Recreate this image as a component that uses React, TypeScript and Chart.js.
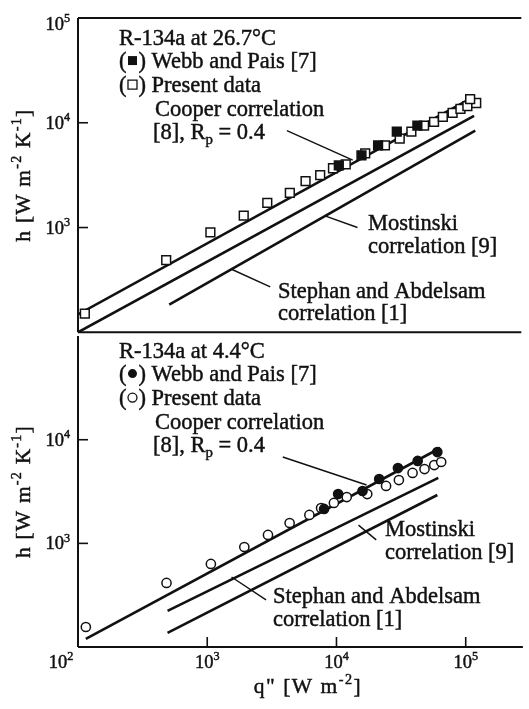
import React, { useEffect, useRef } from "react";
import { Chart, registerables } from "chart.js";
Chart.register(...registerables);

const FONT = '"Liberation Serif", "Times New Roman", serif';
const INK = "#111111";

// ---- axes ----
const Q_MIN = 100;
const Q_MAX = 277000;
const H_MIN = 100;
const H_MAX = 100000;
const decadeValues = [100, 1000, 10000, 100000];
const decadeExponents = ["2", "3", "4", "5"];

// ---- top panel: R-134a at 26.7 C ----
const presentTopQ = [113, 484, 1067, 1936, 2951, 4415, 5850, 7600, 9550, 12000, 17000, 24200, 31500, 38800, 48700, 58200, 68100, 81100, 93300, 105600, 123700, 111000];
const presentTopH = [151, 489, 897, 1297, 1722, 2139, 2775, 3162, 3680, 4015, 5100, 6070, 7060, 8220, 9370, 10220, 11400, 12420, 13550, 14450, 15440, 16840];
const webbTopQ = [10600, 15900, 21400, 29900, 43200];
const webbTopH = [3930, 4890, 6070, 8220, 9370];
const cooperTopQ = [100, 117000];
const cooperTopH = [148, 17600];
const mostinskiTopQ = [100, 119000];
const mostinskiTopH = [100, 11640];
const stephanTopQ = [511, 121600];
const stephanTopH = [184, 8410];
const cooperLeaderTopQ = [4190, 13600];
const cooperLeaderTopH = [8410, 4390];
const mostinskiLeaderTopQ = [8170, 14800];
const mostinskiLeaderTopH = [1297, 1000];
const stephanLeaderTopQ = [1542, 3110];
const stephanLeaderTopH = [402, 272];

// ---- bottom panel: R-134a at 4.4 C ----
const presentBotQ = [115, 484, 1067, 1936, 2951, 4340, 6170, 7600, 9550, 12000, 17300, 24200, 30400, 38800, 48000, 57100, 64600];
const presentBotH = [156, 415, 633, 922, 1205, 1573, 1880, 2193, 2455, 2800, 2990, 3580, 4080, 4780, 5210, 5700, 6100];
const webbBotQ = [8020, 10300, 15900, 21400, 29900, 42500, 60300];
const webbBotH = [2150, 2990, 3200, 4180, 5330, 6240, 7600];
const cooperBotQ = [115, 63500];
const cooperBotH = [120, 8320];
const corrMidBotQ = [493, 61400];
const corrMidBotH = [223, 4280];
const corrLowBotQ = [493, 60300];
const corrLowBotH = [137, 2930];
const cooperLeaderBotQ = [3840, 17100];
const cooperLeaderBotH = [6810, 3660];
const mostinskiLeaderBotQ = [14800, 20300];
const mostinskiLeaderBotH = [1500, 1080];
const stephanLeaderBotQ = [1542, 2850];
const stephanLeaderBotH = [474, 285];

type Seg = { t?: string; sup?: boolean; sub?: boolean; mark?: string };
type TextItem = { x: number; y: number; segs: Seg[] };

function pts(qs: number[], hs: number[]) {
  return qs.map((q, i) => ({ x: q, y: hs[i] }));
}
function lineDs(qs: number[], hs: number[], w: number) {
  return {
    data: pts(qs, hs),
    showLine: true,
    borderColor: INK,
    borderWidth: w,
    pointRadius: 0,
    fill: false,
    order: 2,
  };
}
function markDs(qs: number[], hs: number[], style: string, filled: boolean) {
  return {
    data: pts(qs, hs),
    showLine: false,
    pointStyle: style,
    pointRadius: style === "rect" ? 6.2 : 4.6,
    pointBackgroundColor: filled ? INK : "#ffffff",
    pointBorderColor: INK,
    pointBorderWidth: 1.5,
    order: filled ? 0 : 1,
  };
}

function drawMark(ctx: CanvasRenderingContext2D, kind: string, cx: number, cy: number) {
  ctx.save();
  ctx.lineWidth = 1.3;
  ctx.beginPath();
  if (kind.endsWith("sq")) ctx.rect(cx - 4.5, cy - 4.5, 9, 9);
  else ctx.arc(cx, cy, 4.5, 0, Math.PI * 2);
  if (kind.startsWith("f")) ctx.fill();
  else ctx.stroke();
  ctx.restore();
}

function richWidth(ctx: CanvasRenderingContext2D, segs: Seg[], size: number, spacing: number) {
  let w = 0;
  (ctx as any).letterSpacing = `${spacing}px`;
  for (const s of segs) {
    if (s.mark) { w += 12; continue; }
    const fs = s.sup || s.sub ? size * 0.66 : size;
    ctx.font = `${fs}px ${FONT}`;
    w += ctx.measureText(s.t || "").width;
  }
  return w;
}

function drawRich(ctx: CanvasRenderingContext2D, segs: Seg[], x: number, y: number, size: number, align = "left", spacing = 0) {
  const w = richWidth(ctx, segs, size, spacing);
  let cx = align === "center" ? x - w / 2 : align === "right" ? x - w : x;
  ctx.textAlign = "left";
  ctx.textBaseline = "alphabetic";
  (ctx as any).letterSpacing = `${spacing}px`;
  ctx.lineWidth = 0.45;
  ctx.strokeStyle = INK;
  for (const s of segs) {
    if (s.mark) {
      drawMark(ctx, s.mark, cx + 6, y - size * 0.33);
      cx += 12;
      continue;
    }
    const fs = s.sup || s.sub ? size * 0.66 : size;
    ctx.font = `${fs}px ${FONT}`;
    const dy = s.sup ? -size * 0.42 : s.sub ? size * 0.22 : 0;
    ctx.fillText(s.t || "", cx, y + dy);
    ctx.strokeText(s.t || "", cx, y + dy);
    cx += ctx.measureText(s.t || "").width;
  }
  (ctx as any).letterSpacing = "0px";
}

const yTitle: Seg[] = [{ t: "h [W m" }, { t: "-2", sup: true }, { t: " K" }, { t: "-1", sup: true }, { t: "]" }];
const xTitle: Seg[] = [{ t: "q\" [W m" }, { t: "-2", sup: true }, { t: "]" }];

type PanelCfg = {
  offsetY: number;
  drawTop: boolean;
  drawDivider: boolean;
  drawBottomAxis: boolean;
  yLabelValues: number[];
  texts: TextItem[];
};

function makeDecor(cfg: PanelCfg) {
  return {
    id: "panelDecor",
    afterDraw(chart: any) {
      const ctx: CanvasRenderingContext2D = chart.ctx;
      const a = chart.chartArea;
      const xs = chart.scales.x;
      const ys = chart.scales.y;
      ctx.save();
      ctx.strokeStyle = INK;
      ctx.fillStyle = INK;
      ctx.lineWidth = 2;
      ctx.beginPath();
      ctx.moveTo(a.left, a.top);
      ctx.lineTo(a.left, a.bottom);
      if (cfg.drawTop) {
        ctx.moveTo(a.left, a.top);
        ctx.lineTo(a.right, a.top);
      }
      if (cfg.drawDivider || cfg.drawBottomAxis) {
        ctx.moveTo(a.left, a.bottom);
        ctx.lineTo(a.right, a.bottom);
      }
      ctx.stroke();

      // y ticks (inside) and labels
      for (let i = 0; i < decadeValues.length; i++) {
        const v = decadeValues[i];
        const py = ys.getPixelForValue(v);
        if (v > H_MIN && v < H_MAX) {
          ctx.lineWidth = 1.6;
          ctx.beginPath();
          ctx.moveTo(a.left, py);
          ctx.lineTo(a.left + 10, py);
          ctx.stroke();
        }
        if (cfg.yLabelValues.includes(v)) {
          const base = Math.max(py + 6, a.top + 12);
          drawRich(ctx, [{ t: "10" }, { t: decadeExponents[i], sup: true }], a.left - 8, base, 18.5, "right");
        }
      }

      // x ticks and labels on the bottom axis
      if (cfg.drawBottomAxis) {
        for (let i = 0; i < decadeValues.length; i++) {
          const v = decadeValues[i];
          const px = xs.getPixelForValue(v);
          if (v > Q_MIN) {
            ctx.lineWidth = 1.6;
            ctx.beginPath();
            ctx.moveTo(px, a.bottom);
            ctx.lineTo(px, a.bottom - 10);
            ctx.stroke();
          }
          const cx = v === Q_MIN ? px - 17 : px;
          drawRich(ctx, [{ t: "10" }, { t: decadeExponents[i], sup: true }], cx, a.bottom + 21, 18.5, "center");
        }
        drawRich(ctx, xTitle, 308, 693 - cfg.offsetY, 21.5, "center", 1.5);
      }

      // y title (rotated)
      ctx.save();
      ctx.translate(23, (a.top + a.bottom) / 2);
      ctx.rotate(-Math.PI / 2);
      drawRich(ctx, yTitle, 0, 7, 21.5, "center", 1.2);
      ctx.restore();

      // annotation texts
      for (const t of cfg.texts) {
        drawRich(ctx, t.segs, t.x, t.y - cfg.offsetY, 22.5, "left");
      }
      ctx.restore();
    },
  };
}

const topTexts: TextItem[] = [
  { x: 119, y: 45, segs: [{ t: "R-134a at 26.7°C" }] },
  { x: 119, y: 68, segs: [{ t: "(" }, { mark: "fsq" }, { t: ") Webb and Pais [7]" }] },
  { x: 119, y: 92, segs: [{ t: "(" }, { mark: "osq" }, { t: ") Present data" }] },
  { x: 155, y: 116, segs: [{ t: "Cooper correlation" }] },
  { x: 153, y: 139, segs: [{ t: "[8], R" }, { t: "p", sub: true }, { t: " = 0.4" }] },
  { x: 368, y: 230, segs: [{ t: "Mostinski" }] },
  { x: 368, y: 253, segs: [{ t: "correlation [9]" }] },
  { x: 278, y: 298, segs: [{ t: "Stephan and Abdelsam" }] },
  { x: 278, y: 320, segs: [{ t: "correlation [1]" }] },
];

const botTexts: TextItem[] = [
  { x: 119, y: 358, segs: [{ t: "R-134a at 4.4°C" }] },
  { x: 119, y: 381, segs: [{ t: "(" }, { mark: "fci" }, { t: ") Webb and Pais [7]" }] },
  { x: 119, y: 405, segs: [{ t: "(" }, { mark: "oci" }, { t: ") Present data" }] },
  { x: 155, y: 429, segs: [{ t: "Cooper correlation" }] },
  { x: 153, y: 452, segs: [{ t: "[8], R" }, { t: "p", sub: true }, { t: " = 0.4" }] },
  { x: 385, y: 536, segs: [{ t: "Mostinski" }] },
  { x: 385, y: 559, segs: [{ t: "correlation [9]" }] },
  { x: 273, y: 603, segs: [{ t: "Stephan and Abdelsam" }] },
  { x: 273, y: 626, segs: [{ t: "correlation [1]" }] },
];

function baseOptions(padding: any) {
  return {
    responsive: false,
    animation: false as const,
    devicePixelRatio: 1,
    events: [] as any[],
    layout: { padding },
    plugins: { legend: { display: false }, tooltip: { enabled: false } },
    scales: {
      x: { type: "logarithmic" as const, min: Q_MIN, max: Q_MAX, display: false },
      y: { type: "logarithmic" as const, min: H_MIN, max: H_MAX, display: false },
    },
  };
}

export default function App() {
  const topRef = useRef<HTMLCanvasElement>(null);
  const botRef = useRef<HTMLCanvasElement>(null);

  useEffect(() => {
    const top = new Chart(topRef.current!, {
      type: "scatter",
      data: {
        datasets: [
          markDs(webbTopQ, webbTopH, "rect", true),
          markDs(presentTopQ, presentTopH, "rect", false),
          lineDs(cooperTopQ, cooperTopH, 2.6),
          lineDs(mostinskiTopQ, mostinskiTopH, 2.6),
          lineDs(stephanTopQ, stephanTopH, 2.6),
          lineDs(cooperLeaderTopQ, cooperLeaderTopH, 1.4),
          lineDs(mostinskiLeaderTopQ, mostinskiLeaderTopH, 1.4),
          lineDs(stephanLeaderTopQ, stephanLeaderTopH, 1.4),
        ] as any,
      },
      options: baseOptions({ left: 78, right: 0, top: 18, bottom: 4 }) as any,
      plugins: [
        makeDecor({ offsetY: 0, drawTop: true, drawDivider: true, drawBottomAxis: false, yLabelValues: [1000, 10000, 100000], texts: topTexts }),
      ],
    });
    const bot = new Chart(botRef.current!, {
      type: "scatter",
      data: {
        datasets: [
          markDs(webbBotQ, webbBotH, "circle", true),
          markDs(presentBotQ, presentBotH, "circle", false),
          lineDs(cooperBotQ, cooperBotH, 2.6),
          lineDs(corrMidBotQ, corrMidBotH, 2.6),
          lineDs(corrLowBotQ, corrLowBotH, 2.6),
          lineDs(cooperLeaderBotQ, cooperLeaderBotH, 1.4),
          lineDs(mostinskiLeaderBotQ, mostinskiLeaderBotH, 1.4),
          lineDs(stephanLeaderBotQ, stephanLeaderBotH, 1.4),
        ] as any,
      },
      options: baseOptions({ left: 78, right: 0, top: 6, bottom: 62 }) as any,
      plugins: [
        makeDecor({ offsetY: 330, drawTop: false, drawDivider: false, drawBottomAxis: true, yLabelValues: [1000, 10000], texts: botTexts }),
      ],
    });
    return () => {
      top.destroy();
      bot.destroy();
    };
  }, []);

  return (
    <div>
      <canvas
        ref={topRef}
        width={529}
        height={340}
        style={{ position: "absolute", left: 0, top: 0, width: 529, height: 340 }}
      />
      <canvas
        ref={botRef}
        width={529}
        height={379}
        style={{ position: "absolute", left: 0, top: 330, width: 529, height: 379 }}
      />
    </div>
  );
}
